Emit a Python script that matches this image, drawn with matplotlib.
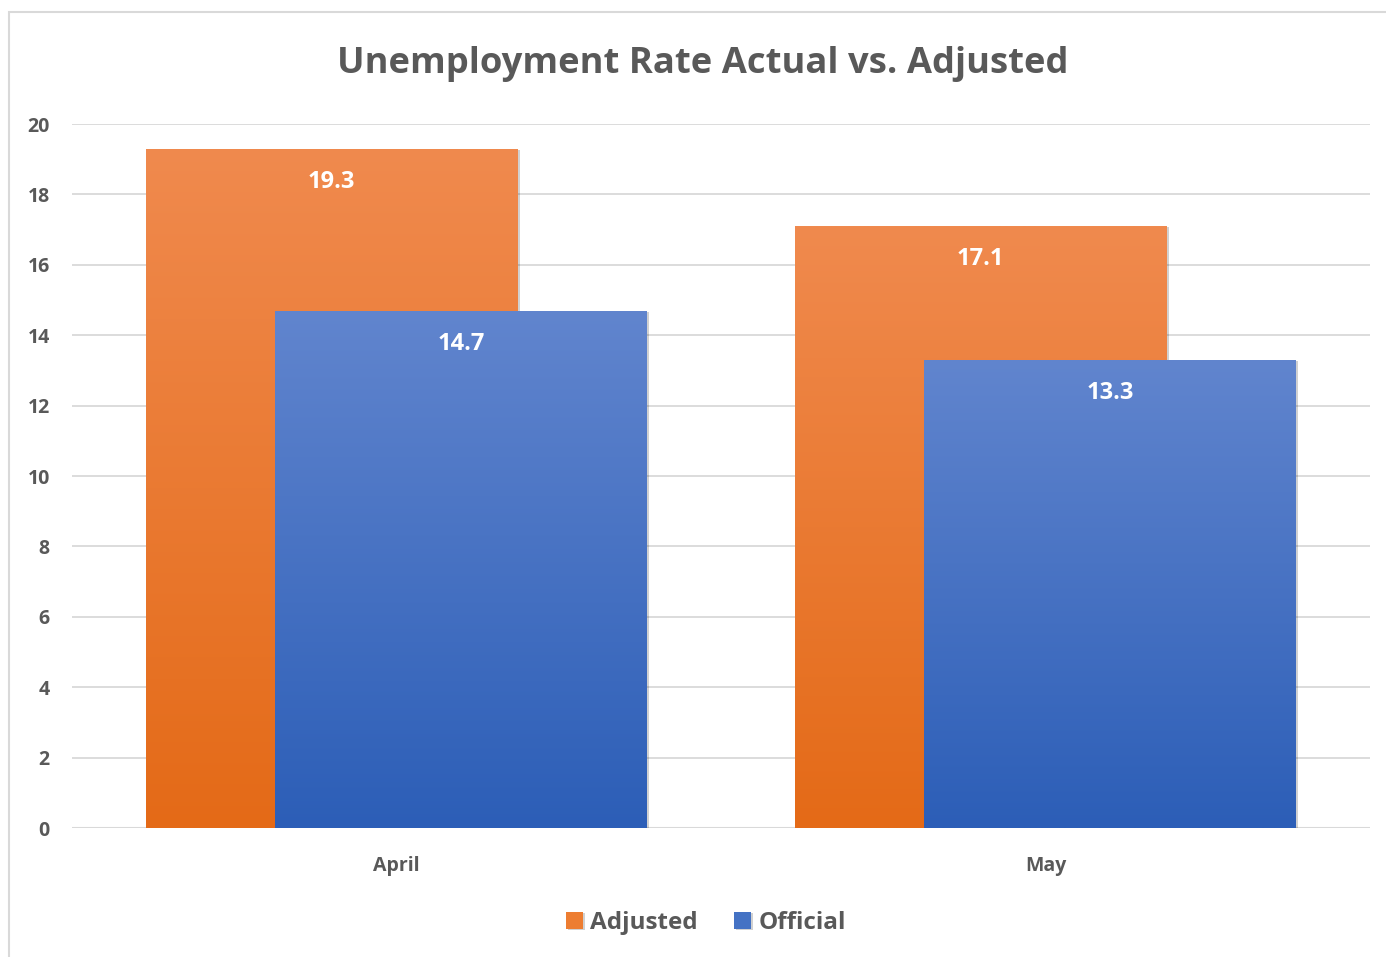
import numpy as np
import matplotlib.pyplot as plt
from matplotlib.colors import LinearSegmentedColormap
from matplotlib.patches import Rectangle
import matplotlib.patheffects as pe

categories = ['April', 'May']
adjusted = [19.3, 17.1]
official = [14.7, 13.3]
yticks = [0, 2, 4, 6, 8, 10, 12, 14, 16, 18, 20]

plt.rcParams['font.family'] = ['Open Sans', 'DejaVu Sans']
text_color = '#595959'
grid_color = '#D9D9D9'

orange_cmap = LinearSegmentedColormap.from_list('o', ['#E46A17', '#F08A4E'])
blue_cmap = LinearSegmentedColormap.from_list('b', ['#2C5EB7', '#6185CE'])

fig = plt.figure(figsize=(13.86, 9.57), dpi=100)
fig.patch.set_facecolor('white')
fig.patches.append(Rectangle((9 / 1386, -0.1), 1.2, 1 - 12 / 957 + 0.1,
                             transform=fig.transFigure, fill=False,
                             edgecolor=grid_color, linewidth=1.5))

ax = fig.add_axes([72 / 1386, 1 - 828 / 957, (1370 - 72) / 1386, (828 - 124) / 957])
x = np.arange(len(categories))
width = 0.573
offset = 0.1

grad = np.linspace(0, 1, 256).reshape(-1, 1)


def gradient_bars(xpos, vals, cmap, label, base_color):
    bars = ax.bar(xpos, vals, width, color=base_color, label=label, zorder=2,
                  path_effects=[pe.SimplePatchShadow(offset=(1.5, -1), alpha=0.18,
                                                     shadow_rgbFace='black'),
                                pe.Normal()])
    for b in bars:
        x0, y0 = b.get_x(), b.get_y()
        im = ax.imshow(grad, cmap=cmap, origin='lower', aspect='auto',
                       extent=[x0, x0 + b.get_width(), y0, y0 + b.get_height()],
                       zorder=2.1, interpolation='bilinear')
        im.set_clip_path(b)
    for b, v in zip(bars, vals):
        ax.annotate(f'{v}', (b.get_x() + b.get_width() / 2, v),
                    xytext=(0, -24), textcoords='offset points',
                    ha='center', va='center', color='white',
                    fontsize=17, fontweight='bold', zorder=5)
    return bars


gradient_bars(x - offset, adjusted, orange_cmap, 'Adjusted', '#ED7D31')
gradient_bars(x + offset, official, blue_cmap, 'Official', '#4472C4')

ax.set_xlim(-0.5, 1.5)
ax.set_ylim(0, 20)
ax.set_yticks(yticks)
ax.set_xticks(x)
ax.set_xticklabels(categories)
ax.yaxis.grid(True, color=grid_color, linewidth=1.3, zorder=0)
ax.set_axisbelow(True)
for s in ax.spines.values():
    s.set_visible(False)
ax.tick_params(axis='both', length=0, colors=text_color, labelsize=14)
ax.tick_params(axis='y', pad=16)
ax.tick_params(axis='x', pad=20)
for lab in ax.get_xticklabels() + ax.get_yticklabels():
    lab.set_fontweight('bold')
ax.axhline(0, color=grid_color, linewidth=1.5, zorder=1)

fig.text(703 / 1386, 1 - 64 / 957, 'Unemployment Rate Actual vs. Adjusted',
         ha='center', va='center', fontsize=26.2, fontweight='bold', color=text_color)

leg = fig.legend(loc='center', bbox_to_anchor=(706 / 1386, 1 - 923 / 957),
                 ncol=2, frameon=False, handlelength=0.7, handleheight=0.7,
                 handletextpad=0.3, columnspacing=1.5,
                 prop={'size': 17.5, 'weight': 'bold'})
for t in leg.get_texts():
    t.set_color(text_color)

fig.savefig('out.png', dpi=100)
